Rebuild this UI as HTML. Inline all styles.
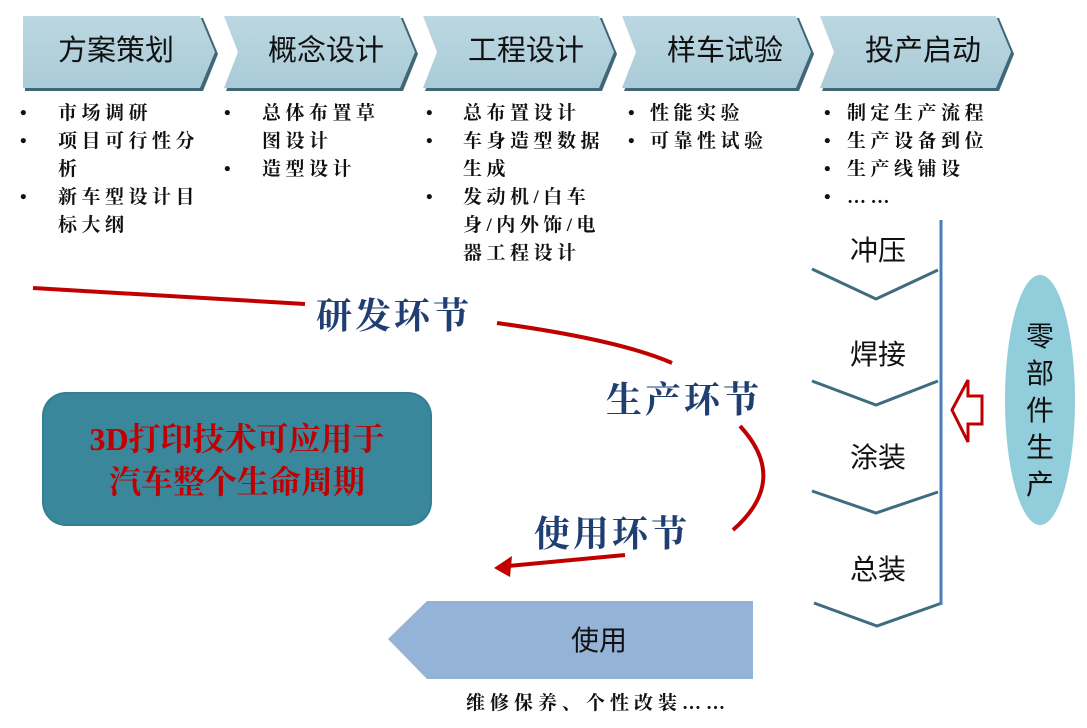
<!DOCTYPE html>
<html><head><meta charset="utf-8"><style>
body{margin:0;width:1087px;height:728px;background:#fff;position:relative;overflow:hidden;font-family:"Liberation Sans","Noto Sans CJK SC",sans-serif}
.t{position:absolute;white-space:nowrap}
.h{font-size:29px;color:#111;top:33px;line-height:36px}
.b{font-family:"Liberation Serif","Noto Serif CJK SC",serif;font-size:19px;color:#111;line-height:28px;letter-spacing:4.5px;font-weight:bold}
.k{font-family:"Liberation Serif","Noto Serif CJK SC",serif;font-weight:bold;font-size:36px;color:#1f3f73;letter-spacing:3px}
.s{font-size:28px;color:#111}
</style></head><body>
<svg width="1087" height="728" style="position:absolute;left:0;top:0">
<defs>
<linearGradient id="g" x1="0" y1="0" x2="0" y2="1"><stop offset="0" stop-color="#bcd8e2"/><stop offset="1" stop-color="#a9cbd7"/></linearGradient>
</defs>
<g>
<polygon points="25,18 203,18 218,54 203,91 25,91" fill="#3f6776"/>
<polygon points="23,16 200,16 215,52 200,88 23,88" fill="url(#g)"/>
<polygon points="226,18 403,18 418,54 403,91 226,91 241,54" fill="#3f6776"/>
<polygon points="224,16 400,16 415,52 400,88 224,88 238,52" fill="url(#g)"/>
<polygon points="425,18 602,18 617,54 602,91 425,91 440,54" fill="#3f6776"/>
<polygon points="423,16 599,16 614,52 599,88 423,88 437,52" fill="url(#g)"/>
<polygon points="624,18 799,18 814,54 799,91 624,91 639,54" fill="#3f6776"/>
<polygon points="622,16 796,16 811,52 796,88 622,88 636,52" fill="url(#g)"/>
<polygon points="822,18 999,18 1014,54 999,91 822,91 837,54" fill="#3f6776"/>
<polygon points="820,16 996,16 1011,52 996,88 820,88 834,52" fill="url(#g)"/>
</g>
<g fill="none" stroke="#3d6d7e" stroke-width="3">
<polyline points="812,269 876,299 938,270"/>
<polyline points="812,381 876,405 938,381"/>
<polyline points="812,491 876,513 938,492"/>
<polyline points="814,603 877,626 942,603"/>
</g>
<line x1="941" y1="220" x2="941" y2="605" stroke="#4a7ebb" stroke-width="3"/>
<polygon points="952,410 968,380 968,396 982,396 982,424 968,424 968,442" fill="#fff" stroke="#c00000" stroke-width="3"/>
<ellipse cx="1040" cy="400" rx="35" ry="125" fill="#92cddc"/>
<polygon points="388,639 427,601 753,601 753,679 427,679" fill="#95b3d7"/>
<rect x="42" y="392" width="390" height="134" rx="24" fill="#327f93"/>
<rect x="44" y="394" width="386" height="130" rx="22" fill="#3a879b"/>
<g fill="none" stroke="#c00000" stroke-width="4">
<path d="M33,288 L305,304"/>
<path d="M497,323 Q620,340 672,363"/>
<path d="M740,426 Q790,480 733,530"/>
<path d="M625,555 L508,566"/>
</g>
<polygon points="494,568 512,556 510,577" fill="#c00000"/>
</svg>
<div class="t h" style="left:58px">方案策划</div>
<div class="t h" style="left:268px">概念设计</div>
<div class="t h" style="left:468px">工程设计</div>
<div class="t h" style="left:667px">样车试验</div>
<div class="t h" style="left:865px">投产启动</div>

<div class="t b" style="left:20px;top:100px">•<br>•<br><br>•</div>
<div class="t b" style="left:58px;top:100px">市场调研<br>项目可行性分<br>析<br>新车型设计目<br>标大纲</div>
<div class="t b" style="left:224px;top:100px">•<br><br>•</div>
<div class="t b" style="left:262px;top:100px">总体布置草<br>图设计<br>造型设计</div>
<div class="t b" style="left:426px;top:100px">•<br>•<br><br>•</div>
<div class="t b" style="left:463px;top:100px">总布置设计<br>车身造型数据<br>生成<br>发动机/白车<br>身/内外饰/电<br>器工程设计</div>
<div class="t b" style="left:628px;top:100px">•<br>•</div>
<div class="t b" style="left:650px;top:100px">性能实验<br>可靠性试验</div>
<div class="t b" style="left:824px;top:100px">•<br>•<br>•<br>•</div>
<div class="t b" style="left:847px;top:100px">制定生产流程<br>生产设备到位<br>生产线铺设<br>……</div>

<div class="t s" style="left:850px;top:229px">冲压</div>
<div class="t s" style="left:850px;top:333px">焊接</div>
<div class="t s" style="left:850px;top:436px">涂装</div>
<div class="t s" style="left:850px;top:548px">总装</div>
<div class="t s" style="left:1026px;top:318px;line-height:37px;width:30px;white-space:normal">零部件生产</div>

<div class="t k" style="left:316px;top:288px">研发环节</div>
<div class="t k" style="left:606px;top:372px">生产环节</div>
<div class="t k" style="left:534px;top:506px">使用环节</div>

<div class="t" style="left:42px;top:418px;width:390px;text-align:center;font-family:'Liberation Serif','Noto Serif CJK SC',serif;font-size:32px;line-height:43px;color:#c00000;font-weight:bold">3D打印技术可应用于<br>汽车整个生命周期</div>

<div class="t s" style="left:571px;top:619px">使用</div>
<div class="t b" style="left:466px;top:690px;letter-spacing:5px">维修保养、个性改装……</div>
</body></html>
